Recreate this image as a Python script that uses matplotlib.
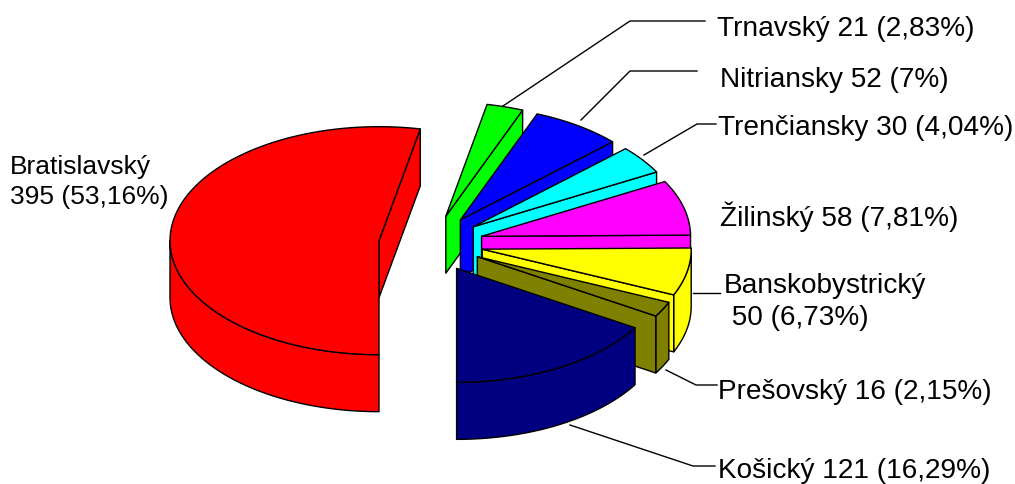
import numpy as np
from matplotlib import pyplot as plt
from matplotlib.patches import Polygon

regions = ["Bratislavský", "Trnavský", "Nitriansky", "Trenčiansky", "Žilinský",
           "Banskobystrický", "Prešovský", "Košický"]
counts = [395, 21, 52, 30, 58, 50, 16, 121]
percents = ["53,16", "2,83", "7", "4,04", "7,81", "6,73", "2,15", "16,29"]
colors = ["#ff0000", "#00ff00", "#0000ff", "#00ffff", "#ff00ff", "#ffff00", "#808000", "#000080"]

# pie projection, in pixels of the output image
CX, CY = 431, 244.5
RX, RY = 209, 114
DEPTH = 57
EXPLODE = 0.25
START_ANGLE = 180

label_pos = [(10, 182), (717, 29), (720, 80), (718, 128), (720, 217), (724, 302), (718, 392), (718, 471)]
label_size = [19, 20.2, 20.2, 20.2, 20.2, 20.2, 20.2, 20.2]
leaders = [None,
           [(503, 107), (630, 22), (705, 22)],
           [(581, 121), (630, 72), (697, 72)],
           [(644, 156), (697, 125), (716, 125)],
           None,
           [(693, 294), (720, 294)],
           [(666, 371), (696, 386), (717, 386)],
           [(570, 426), (693, 467), (715, 467)]]


def rim(ax_x, ax_y, angles, drop=0):
    rad = np.radians(angles)
    return np.column_stack([ax_x + RX * np.sin(rad), ax_y - RY * np.cos(rad) + drop])


def add_face(ax, points, color):
    ax.add_patch(Polygon(points, closed=True, facecolor=color, edgecolor="black", linewidth=1.0,
                         joinstyle="round"))


def draw_slice(ax, start, end, color):
    mid = np.radians((start + end) / 2)
    apex_x = CX + EXPLODE * RX * np.sin(mid)
    apex_y = CY - EXPLODE * RY * np.cos(mid)

    # outer wall, only the front half of the rim can be seen
    front_a = max(start, 90)
    front_b = min(end, 270)
    if front_b > front_a:
        arc = np.linspace(front_a, front_b, 60)
        add_face(ax, np.vstack([rim(apex_x, apex_y, arc), rim(apex_x, apex_y, arc[::-1], DEPTH)]), color)

    # cut face on the closing radius
    if np.sin(np.radians(end)) > 1e-6:
        tip = rim(apex_x, apex_y, [end])[0]
        add_face(ax, [(apex_x, apex_y), tip, (tip[0], tip[1] + DEPTH), (apex_x, apex_y + DEPTH)], color)

    arc = np.linspace(start, end, 120)
    add_face(ax, np.vstack([[(apex_x, apex_y)], rim(apex_x, apex_y, arc)]), color)


fig = plt.figure(figsize=(10.15, 4.85), dpi=100)
ax = fig.add_axes([0, 0, 1, 1])
ax.set_xlim(0, 1015)
ax.set_ylim(485, 0)
ax.axis("off")

sweeps = 360 * np.array(counts) / sum(counts)
bounds = START_ANGLE + np.concatenate([[0], np.cumsum(sweeps)])

for i, color in enumerate(colors):
    a, b = bounds[i], bounds[i + 1]
    if a >= 360:
        a, b = a - 360, b - 360
    draw_slice(ax, a, b, color)
    if leaders[i] is not None:
        ax.plot(*zip(*leaders[i]), color="black", linewidth=1.0, solid_joinstyle="miter")

for i, (x, y) in enumerate(label_pos):
    if i == 0:
        text = f"{regions[i]}\n{counts[i]} ({percents[i]}%)"
    elif i == 5:
        text = f"{regions[i]}\n {counts[i]} ({percents[i]}%)"
    else:
        text = f"{regions[i]} {counts[i]} ({percents[i]}%)"
    ax.text(x, y, text, family="Liberation Sans", fontsize=label_size[i], color="black", ha="left", va="center",
            linespacing=1.33)

fig.savefig("out.png", dpi=100)
